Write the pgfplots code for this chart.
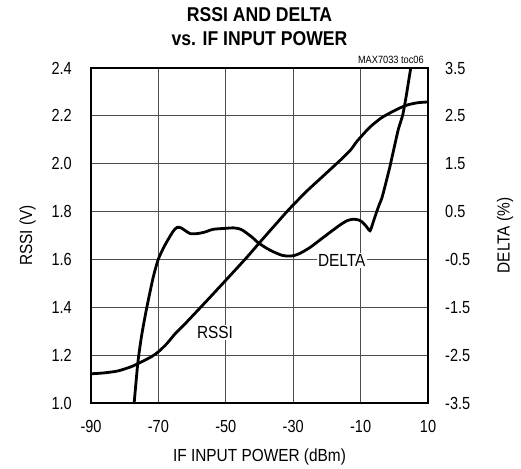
\documentclass[border=0pt]{standalone}
\usepackage{fontspec}
\setmainfont{Liberation Sans}
\newfontfamily\ftick{Liberation Sans}[FakeStretch=0.83]
\newfontfamily\ftxt{Liberation Sans}[FakeStretch=0.88]
\usepackage{pgfplots}
\pgfplotsset{compat=1.18}
\begin{document}
\begin{tikzpicture}
\useasboundingbox (-91pt,-65pt) rectangle (430pt,403pt);
\begin{axis}[
  scale only axis, width=337pt, height=335pt,
  clip=false,
  xmin=-90, xmax=10, ymin=1.0, ymax=2.4,
  xtick={-90,-70,-50,-30,-10,10},
  ytick={1.0,1.2,1.4,1.6,1.8,2.0,2.2,2.4},
  grid=major, major grid style={black!70, line width=0.8pt},
  major tick length=0pt,
  axis line style={line width=2.4pt},
  /pgf/number format/assume math mode=true,
  every tick label/.append style={font=\ftick\fontsize{17.5}{20}\selectfont},
  yticklabel={\pgfmathprintnumber[fixed,fixed zerofill,precision=1]{\tick}},
  y tick label style={anchor=east, inner sep=0pt, xshift=-19pt},
  x tick label style={anchor=north, inner sep=0pt, yshift=-17pt},
  xlabel={IF INPUT POWER (dBm)},
  xlabel style={at={(axis description cs:0.5,-0.1597)}, anchor=center, font=\ftxt\fontsize{17.5}{20}\selectfont},
  ylabel={RSSI (V)},
  ylabel style={at={(axis description cs:-0.1884,0.5)}, anchor=center, font=\ftxt\fontsize{17.5}{20}\selectfont},
  title={RSSI AND DELTA\\vs. IF INPUT POWER},
  title style={at={(axis description cs:0.5,1.0487)}, anchor=south, align=center, inner sep=0pt, font=\ftxt\bfseries\fontsize{20}{23.7}\selectfont},
]
\addplot[line width=2.8pt, smooth, tension=0.4] coordinates {
(-90,1.122)(-86,1.126)(-82,1.134)(-78,1.152)(-75,1.172)(-72,1.194)(-70,1.214)
(-67.5,1.248)(-65,1.29)(-62.5,1.325)(-60,1.362)(-55,1.437)(-50,1.513)(-44,1.605)
(-40,1.67)(-35,1.75)(-31,1.813)(-26,1.885)(-22,1.937)(-19,1.976)(-16,2.015)
(-13,2.057)(-11,2.095)(-7.3,2.152)(-4,2.19)(-1.3,2.212)(1.5,2.232)(4,2.246)(7,2.255)(10,2.258)
};
\node[fill=white, inner sep=1.5pt, font=\ftxt\fontsize{17.5}{20}\selectfont] at (axis cs:-53.2,1.294) {RSSI};
\node[anchor=south east, inner sep=0pt, font=\ftxt\fontsize{10.5}{12}\selectfont] at (axis description cs:0.988,1.012) {MAX7033 toc06};
\end{axis}
\begin{axis}[
  scale only axis, width=337pt, height=335pt,
  xmin=-90, xmax=10, ymin=-3.5, ymax=3.5,
  axis x line=none, axis y line*=right,
  ytick={-3.5,-2.5,-1.5,-0.5,0.5,1.5,2.5,3.5},
  major tick length=0pt,
  axis line style={line width=2.4pt},
  /pgf/number format/assume math mode=true,
  every tick label/.append style={font=\ftick\fontsize{17.5}{20}\selectfont},
  yticklabel={\pgfmathprintnumber[fixed,fixed zerofill,precision=1]{\tick}},
  y tick label style={anchor=west, inner sep=0pt, xshift=17pt},
  ylabel={DELTA (\%)},
  ylabel style={at={(axis description cs:1.2285,0.5)}, anchor=center, font=\ftxt\fontsize{17.5}{20}\selectfont},
]
\addplot[line width=2.8pt, smooth, tension=0.4] coordinates {
(-77.6,-3.75)(-77.2,-3.5)(-76.1,-2.66)(-75.0,-2.10)(-73.6,-1.56)(-71.6,-0.89)
(-70.1,-0.51)(-68.5,-0.26)(-67.0,-0.07)(-65.5,0.10)(-64.4,0.17)(-63.3,0.16)
(-62.2,0.11)(-60.6,0.04)(-58.5,0.04)(-56.3,0.07)(-53.7,0.13)(-50,0.15)(-47.8,0.16)
(-46,0.14)(-44.8,0.10)(-42.3,-0.03)(-40.4,-0.15)(-37.8,-0.27)(-35.9,-0.34)
(-33.5,-0.41)(-31.7,-0.43)(-29.8,-0.42)(-27.9,-0.37)(-25,-0.25)(-22,-0.09)
(-19,0.07)(-16.1,0.22)(-14,0.31)(-12.2,0.34)(-10.6,0.325)(-9.5,0.28)(-8.3,0.19)
(-7.2,0.10)(-6.4,0.25)(-5.6,0.42)(-4.5,0.64)(-3.7,0.78)(-2.5,1.1)(-1.3,1.44)
(0,1.85)(1.2,2.22)(2.5,2.52)(3.5,2.90)(4.3,3.25)(5.1,3.6)(5.5,3.8)
};
\node[fill=white, inner sep=1.5pt, font=\ftxt\fontsize{17.5}{20}\selectfont] at (axis cs:-15.6,-0.527) {DELTA};
\end{axis}
\end{tikzpicture}
\end{document}
